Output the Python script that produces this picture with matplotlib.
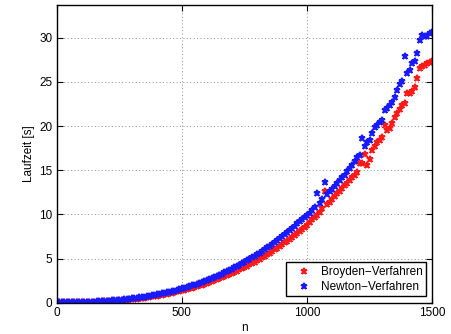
import matplotlib
matplotlib.use("Agg")
import matplotlib.pyplot as plt

n_values = list(range(10, 1501, 10))

broyden = [
    0.03, 0.03, 0.03, 0.03, 0.04, 0.04, 0.04, 0.05, 0.05, 0.06,
    0.07, 0.08, 0.08, 0.09, 0.10, 0.11, 0.13, 0.14, 0.16, 0.17,
    0.19, 0.21, 0.22, 0.24, 0.27, 0.29, 0.32, 0.34, 0.37, 0.40,
    0.44, 0.47, 0.50, 0.54, 0.58, 0.62, 0.66, 0.71, 0.75, 0.80,
    0.85, 0.90, 0.95, 1.02, 1.07, 1.14, 1.20, 1.27, 1.33, 1.41,
    1.47, 1.55, 1.63, 1.71, 1.79, 1.88, 1.97, 2.05, 2.15, 2.25,
    2.34, 2.45, 2.55, 2.66, 2.77, 2.88, 3.00, 3.12, 3.25, 3.38,
    3.50, 3.63, 3.77, 3.91, 4.05, 4.20, 4.35, 4.50, 4.66, 4.81,
    4.99, 5.15, 5.32, 5.50, 5.67, 5.86, 6.05, 6.23, 6.44, 6.63,
    6.84, 7.04, 7.26, 7.47, 7.69, 7.91, 8.14, 8.37, 8.61, 8.85,
    9.15, 9.45, 9.70, 9.95, 10.3, 10.7, 12.7, 11.2, 11.4, 11.8,
    12.1, 12.4, 12.7, 13.0, 13.3, 13.5, 13.9, 14.2, 14.5, 14.8,
    15.8, 15.8, 16.8, 15.6, 16.3, 17.3, 17.8, 18.2, 18.4, 18.8,
    20.1, 19.6, 19.8, 20.3, 21.0, 21.5, 21.9, 22.4, 22.6, 23.8,
    23.7, 24.0, 24.4, 25.4, 26.6, 26.8, 26.9, 27.2, 27.3, 27.4,
]

newton = [
    0.05, 0.05, 0.05, 0.05, 0.06, 0.06, 0.07, 0.07, 0.08, 0.08,
    0.09, 0.10, 0.11, 0.12, 0.13, 0.15, 0.16, 0.18, 0.19, 0.21,
    0.23, 0.25, 0.27, 0.30, 0.32, 0.35, 0.38, 0.41, 0.44, 0.48,
    0.51, 0.55, 0.59, 0.63, 0.68, 0.72, 0.77, 0.82, 0.88, 0.93,
    0.99, 1.05, 1.11, 1.17, 1.24, 1.31, 1.38, 1.46, 1.53, 1.61,
    1.70, 1.78, 1.87, 1.96, 2.05, 2.15, 2.25, 2.35, 2.46, 2.57,
    2.68, 2.80, 2.92, 3.04, 3.17, 3.30, 3.43, 3.56, 3.70, 3.85,
    3.99, 4.15, 4.30, 4.46, 4.62, 4.79, 4.96, 5.13, 5.31, 5.49,
    5.68, 5.87, 6.06, 6.26, 6.46, 6.67, 6.88, 7.10, 7.32, 7.54,
    7.77, 8.01, 8.25, 8.49, 8.74, 8.99, 9.25, 9.51, 9.70, 9.90,
    10.2, 10.5, 10.8, 12.4, 11.3, 11.7, 13.7, 12.3, 12.6, 12.9,
    13.2, 13.5, 13.9, 14.2, 14.5, 14.9, 15.2, 15.6, 16.0, 16.5,
    16.7, 18.7, 17.7, 18.2, 18.4, 19.2, 19.9, 20.1, 20.5, 20.7,
    21.8, 22.0, 22.4, 22.7, 23.3, 24.1, 24.8, 25.1, 27.9, 26.0,
    26.3, 27.1, 27.4, 28.3, 29.7, 30.3, 30.2, 30.2, 30.5, 30.6,
]

x_ticks = [0, 500, 1000, 1500]
y_ticks = [0, 5, 10, 15, 20, 25, 30]
labels = ["Broyden\u2212Verfahren", "Newton\u2212Verfahren"]

plt.rcParams['font.family'] = ['Liberation Sans', 'DejaVu Sans']

fig = plt.figure(figsize=(4.52, 3.34), dpi=100)
ax = fig.add_axes([0.1254, 0.0937, 0.831, 0.891])

ax.plot(n_values, broyden, linestyle='none', marker='*', markersize=4.5,
        color='#ff1a1a', markeredgewidth=1.3, label=labels[0])
ax.plot(n_values, newton, linestyle='none', marker='*', markersize=4.5,
        color='#1a1aff', markeredgewidth=1.3, label=labels[1])

ax.set_xlim(0, 1500)
ax.set_ylim(0, 33.7)
ax.set_xticks(x_ticks)
ax.set_yticks(y_ticks)
ax.tick_params(direction='in', top=True, right=True, labelsize=8.5, length=4,
               width=0.8, pad=3)
for s in ax.spines.values():
    s.set_linewidth(1.0)
ax.grid(True, color='0.55', linestyle=(0, (1, 2.5)), linewidth=0.7)
ax.set_axisbelow(True)

ax.set_xlabel('n', fontsize=8.5, labelpad=2)
ax.set_ylabel('Laufzeit [s]', fontsize=8.5, labelpad=3)

leg = ax.legend(loc='lower right', fontsize=8.5, frameon=True, fancybox=False,
                edgecolor='black', framealpha=1, handletextpad=0.2,
                borderpad=0.3, labelspacing=0.25, handlelength=2.4,
                borderaxespad=0.55)
leg.get_frame().set_linewidth(1.0)

fig.savefig('out.png', dpi=100)
